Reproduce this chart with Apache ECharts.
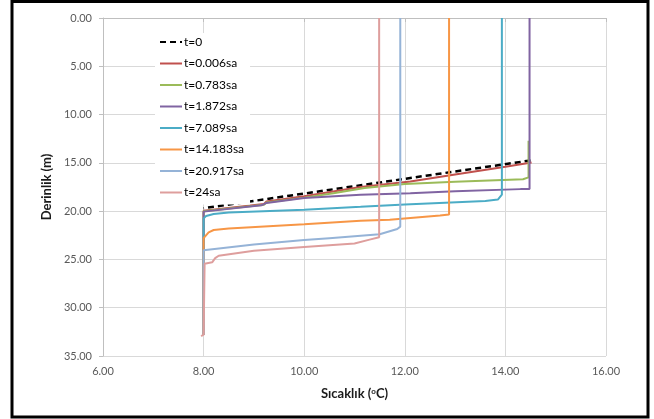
<!DOCTYPE html>
<html>
<head>
<meta charset="utf-8">
<script src="https://cdn.jsdelivr.net/npm/echarts@6/dist/echarts.min.js"></script>
<style>
html,body{margin:0;padding:0;background:#fff;}
#c{width:654px;height:419px;}
</style>
</head>
<body>
<div id="c"></div>
<script>
// Series names (legend)
const seriesNames = ["t=0", "t=0.006sa", "t=0.783sa", "t=1.872sa", "t=7.089sa", "t=14.183sa", "t=20.917sa", "t=24sa"];

// Temperature (°C) and depth (m) per series
const t0_T = [14.5, 8.0];
const t0_D = [14.75, 19.7];

const t0006_T = [14.52, 14.0, 13.0, 12.11, 11.12, 10.0, 9.25, 9.2, 8.0, 8.0];
const t0006_D = [14.96, 15.4, 16.2, 16.93, 17.5, 18.45, 19.0, 19.25, 19.95, 32.8];

const t0783_T = [14.46, 14.46, 14.35, 13.0, 12.0, 11.2, 10.58, 10.0, 9.25, 9.2, 8.0, 8.0];
const t0783_D = [12.7, 16.5, 16.7, 16.95, 17.2, 17.6, 18.15, 18.6, 19.1, 19.35, 20.0, 32.8];

const t1872_T = [14.48, 14.48, 14.3, 13.0, 12.11, 11.12, 10.0, 9.25, 9.15, 8.0, 8.0];
const t1872_D = [0, 17.7, 17.72, 17.95, 18.14, 18.3, 18.65, 19.15, 19.4, 20.05, 32.8];

const t7089_T = [13.93, 13.93, 13.85, 13.6, 12.0, 11.12, 10.0, 8.5, 8.2, 8.05, 8.0, 8.0];
const t7089_D = [0, 18.3, 18.8, 18.95, 19.3, 19.55, 19.85, 20.15, 20.3, 20.5, 20.75, 32.8];

const t14183_T = [12.88, 12.88, 12.7, 11.7, 11.12, 10.0, 8.5, 8.2, 8.1, 8.0, 8.0];
const t14183_D = [0, 20.35, 20.45, 20.9, 21.0, 21.35, 21.8, 21.95, 22.2, 22.8, 32.8];

const t20917_T = [11.91, 11.91, 11.85, 11.5, 10.5, 10.0, 9.0, 8.0, 8.0];
const t20917_D = [0, 21.6, 21.85, 22.4, 22.8, 23.0, 23.45, 24.05, 32.8];

const t24_T = [11.49, 11.49, 11.3, 11.0, 10.0, 9.0, 8.3, 8.23, 8.17, 8.02, 8.0, 7.95];
const t24_D = [0, 22.7, 22.95, 23.35, 23.72, 24.1, 24.62, 24.87, 25.3, 25.45, 32.8, 32.95];

// Axis ticks
const xTicks = [6, 8, 10, 12, 14, 16];
const yTicks = [0, 5, 10, 15, 20, 25, 30, 35];

const seriesT = [t0_T, t0006_T, t0783_T, t1872_T, t7089_T, t14183_T, t20917_T, t24_T];
const seriesD = [t0_D, t0006_D, t0783_D, t1872_D, t7089_D, t14183_D, t20917_D, t24_D];
const colors = ["#000000", "#C0504D", "#9BBB59", "#8064A2", "#4BACC6", "#F79646", "#95B3D7", "#DE9E9D"];

const font = "Lato, 'Open Sans', sans-serif";

const series = seriesNames.map((name, i) => ({
  name: name,
  type: "line",
  showSymbol: false,
  symbol: "none",
  animation: false,
  data: seriesT[i].map((t, k) => [t, seriesD[i][k]]),
  lineStyle: {
    color: colors[i],
    width: i === 0 ? 2.5 : 2,
    type: i === 0 ? [6, 4] : "solid"
  },
  itemStyle: { color: colors[i] },
  z: 2 + i
}));

const chart = echarts.init(document.getElementById("c"), null, { renderer: "canvas" });
chart.setOption({
  animation: false,
  backgroundColor: "#ffffff",
  grid: { left: 103, right: 48, top: 18, bottom: 63 },
  legend: {
    orient: "vertical",
    left: 155,
    top: 33,
    itemWidth: 22,
    itemHeight: 12,
    itemGap: 9.5,
    padding: [3, 6, 6, 4],
    backgroundColor: "#ffffff",
    itemStyle: { opacity: 0, borderWidth: 0 },
    textStyle: { fontFamily: font, fontSize: 12, color: "#000", padding: [0, 0, 0, -3] },
    data: seriesNames
  },
  xAxis: {
    type: "value",
    min: xTicks[0],
    max: xTicks[xTicks.length - 1],
    interval: 2,
    name: "{a|Sıcaklık (}{s|o}{a|C)}",
    nameLocation: "middle",
    nameGap: 31,
    nameTextStyle: {
      rich: {
        a: { fontFamily: font, fontSize: 13, fontWeight: "bold", color: "#1a1a1a" },
        s: { fontFamily: font, fontSize: 8, fontWeight: "bold", color: "#1a1a1a", verticalAlign: "top", padding: [0, 0, 5, 0] }
      }
    },
    axisLine: { show: true, lineStyle: { color: "#bfbfbf", width: 1 } },
    axisTick: { show: true, inside: false, length: 4, lineStyle: { color: "#bfbfbf" } },
    axisLabel: { fontFamily: font, fontSize: 11, color: "#595959", margin: 10, formatter: v => v.toFixed(2) },
    splitLine: { show: true, lineStyle: { color: "#d9d9d9", width: 1 } }
  },
  yAxis: {
    type: "value",
    inverse: true,
    min: yTicks[0],
    max: yTicks[yTicks.length - 1],
    interval: 5,
    name: "Derinlik (m)",
    nameLocation: "middle",
    nameGap: 46,
    nameTextStyle: { fontFamily: font, fontSize: 13, fontWeight: "bold", color: "#1a1a1a" },
    axisLine: { show: true, lineStyle: { color: "#bfbfbf", width: 1 } },
    axisTick: { show: true, inside: false, length: 4, lineStyle: { color: "#bfbfbf" } },
    axisLabel: { fontFamily: font, fontSize: 11, color: "#595959", margin: 11, formatter: v => v.toFixed(2) },
    splitLine: { show: true, lineStyle: { color: "#d9d9d9", width: 1 } }
  },
  graphic: [{
    type: "rect",
    shape: { x: 12, y: 1.5, width: 636, height: 415.5 },
    style: { fill: null, stroke: "#000", lineWidth: 3 },
    silent: true,
    z: 100
  }],
  series: series
});
</script>
</body>
</html>
